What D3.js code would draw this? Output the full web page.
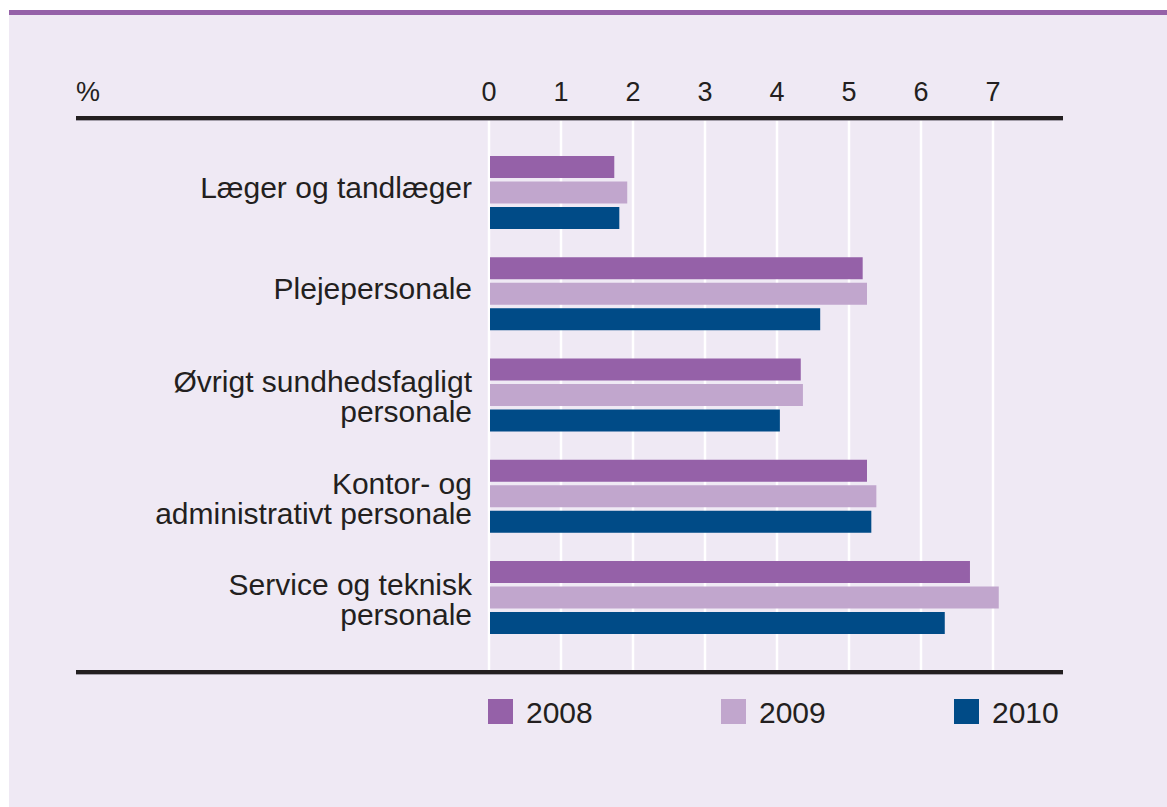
<!DOCTYPE html>
<html>
<head>
<meta charset="utf-8">
<script src="https://cdn.jsdelivr.net/npm/d3@7"></script>
<style>
  body { margin: 0; background: #fff; }
  svg { display: block; }
  text { font-family: "Liberation Sans", Arial, sans-serif; fill: #231f20; }
</style>
</head>
<body>
<div id="chart"></div>
<script>
// Chart data
var categories = [
  ["Læger og tandlæger"],
  ["Plejepersonale"],
  ["Øvrigt sundhedsfagligt", "personale"],
  ["Kontor- og", "administrativt personale"],
  ["Service og teknisk", "personale"]
];
var years = ["2008", "2009", "2010"];
var values2008 = [1.74, 5.19, 4.33, 5.25, 6.68];
var values2009 = [1.92, 5.25, 4.36, 5.38, 7.08];
var values2010 = [1.81, 4.60, 4.04, 5.31, 6.33];
var ticks = [0, 1, 2, 3, 4, 5, 6, 7];

var colors = {"2008": "#9561a8", "2009": "#c1a6cd", "2010": "#004b87"};
var series = {"2008": values2008, "2009": values2009, "2010": values2010};

var W = 1167, H = 807;

var svg = d3.select('#chart').append('svg')
  .attr('width', W)
  .attr('height', H);

// panel background and top band
svg.append('rect').attr('x', 9).attr('y', 14).attr('width', W - 9).attr('height', H - 14)
  .attr('fill', '#efe9f4');
svg.append('rect').attr('x', 9).attr('y', 10).attr('width', W - 9).attr('height', 5)
  .attr('fill', '#9561a8');

// scales
var x = d3.scaleLinear().domain([0, 7]).range([489, 993]);
var y = d3.scaleBand().domain(d3.range(categories.length))
  .range([156, 634]).paddingInner(0.279).paddingOuter(0);
var yInner = d3.scaleBand().domain(years).range([0, y.bandwidth()]).paddingInner(0.137);

// gridlines
svg.append('g').selectAll('line')
  .data(ticks)
  .enter().append('line')
  .attr('x1', function(d) { return x(d); })
  .attr('x2', function(d) { return x(d); })
  .attr('y1', 120)
  .attr('y2', 671)
  .attr('stroke', '#fff')
  .attr('stroke-width', 2.5);

// tick labels
svg.append('g').selectAll('text')
  .data(ticks)
  .enter().append('text')
  .attr('x', function(d) { return x(d); })
  .attr('y', 101)
  .attr('text-anchor', 'middle')
  .style('font-size', '27px')
  .text(function(d) { return d; });

svg.append('text').attr('x', 76).attr('y', 101).style('font-size', '27px').text('%');

// bars
var groups = svg.append('g').selectAll('g')
  .data(categories)
  .enter().append('g')
  .attr('transform', function(d, i) { return 'translate(0,' + y(i) + ')'; });

groups.each(function(d, i) {
  d3.select(this).selectAll('rect')
    .data(years)
    .enter().append('rect')
    .attr('x', x(0) + 1)
    .attr('y', function(yr) { return yInner(yr); })
    .attr('height', yInner.bandwidth())
    .attr('width', function(yr) { return x(series[yr][i]) - x(0) - 1; })
    .attr('fill', function(yr) { return colors[yr]; });
});

// category labels
groups.append('text')
  .attr('text-anchor', 'end')
  .style('font-size', '30px')
  .each(function(d) {
    var t = d3.select(this);
    var lh = 30;
    var start = 42 - (d.length - 1) * 8;
    d.forEach(function(line, k) {
      t.append('tspan').attr('x', 472).attr('y', start + k * lh).text(line);
    });
  });

// axis lines (top and bottom)
[118, 672].forEach(function(yy) {
  svg.append('line').attr('x1', 76).attr('x2', 1063).attr('y1', yy + 2).attr('y2', yy + 2)
    .attr('stroke', '#8a8590').attr('stroke-width', 1.5);
  svg.append('line').attr('x1', 76).attr('x2', 1063).attr('y1', yy).attr('y2', yy)
    .attr('stroke', '#231f20').attr('stroke-width', 4);
});

// legend
var legendX = [488, 721, 954];
var legend = svg.append('g').selectAll('g')
  .data(years)
  .enter().append('g')
  .attr('transform', function(d, i) { return 'translate(' + legendX[i] + ',699)'; });
legend.append('rect').attr('width', 25).attr('height', 25)
  .attr('fill', function(d) { return colors[d]; });
legend.append('text').attr('x', 38).attr('y', 24)
  .style('font-size', '30px')
  .text(function(d) { return d; });
</script>
</body>
</html>
